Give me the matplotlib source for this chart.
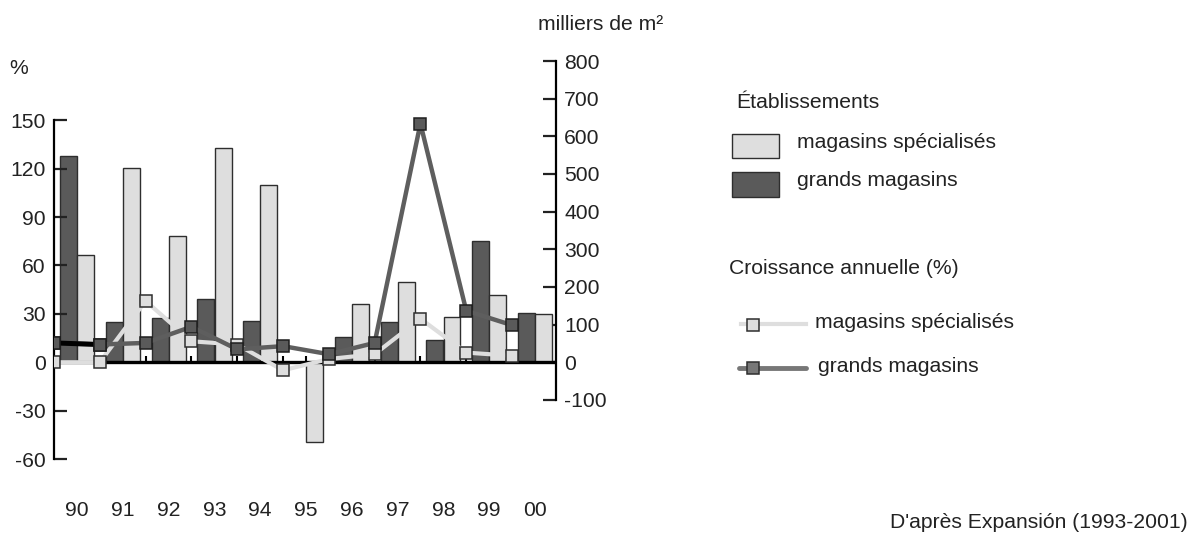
import numpy as np
import matplotlib
matplotlib.use('Agg')
from matplotlib import pyplot as plt
from matplotlib.patches import Rectangle
from matplotlib.lines import Line2D

plt.rcParams['font.family'] = ['Liberation Sans', 'DejaVu Sans']
plt.rcParams['axes.unicode_minus'] = False

# années (étiquettes de l'axe horizontal)
YEARS       = ['90', '91', '92', '93', '94', '95', '96', '97', '98', '99', '00']
# surfaces des établissements (milliers de m²)
SPEC_M2     = [286, 517, 336, 570, 471, -212, 154, 212, 119, 178, 127]
GRANDS_M2   = [548, 106, 117, 167, 109, 0, 66, 106, 58, 321, 132]
# croissance annuelle (%)
SPEC_PCT    = [0, 0, 38, 13, 11, -5, 2, 5, 27, 6, 4]
GRANDS_PCT  = [12, 11, 12, 22, 8, 10, 5, 12, 148, 32, 23]

LEFT_TICKS  = [-60, -30, 0, 30, 60, 90, 120, 150]
RIGHT_TICKS = [-100, 0, 100, 200, 300, 400, 500, 600, 700, 800]

LIGHT       = '#dedede'
DARK        = '#5a5a5a'
EDGE        = '#2e2e2e'
TXT         = '#222222'
FS          = 15.2

fig = plt.figure(figsize=(11.98, 5.38), dpi=100)
axPct = fig.add_axes([0.0451, 0.1468, 0.4190, 0.7398])
axM2 = axPct.twinx()
axPct.set_zorder(axM2.get_zorder() + 1)
axPct.patch.set_visible(False)

x = np.arange(len(YEARS))
xm = x - 0.5
w = 0.37

# barres (axe de droite)
axM2.bar(x - 0.185, GRANDS_M2, w, color=DARK, edgecolor=EDGE, linewidth=1, zorder=2)
axM2.bar(x + 0.19, SPEC_M2, w, color=LIGHT, edgecolor=EDGE, linewidth=1, zorder=2)
axM2.vlines(np.arange(0, 10.5, 0.5), 0, 16, color='black', linewidth=1.5, zorder=1)

# courbes (axe de gauche)
axPct.axhline(0, color='black', linewidth=2.4, zorder=1)
axPct.plot(xm, SPEC_PCT, '-s', color=LIGHT, linewidth=3, markersize=8.5,
           markerfacecolor=LIGHT, markeredgecolor=EDGE, markeredgewidth=1.1, zorder=3)
axPct.plot(xm, GRANDS_PCT, '-s', color='#5e5e5e', linewidth=3.2, markersize=8.5,
           markerfacecolor=DARK, markeredgecolor='#1e1e1e', markeredgewidth=1.1, zorder=4)
axPct.plot(xm[:2], GRANDS_PCT[:2], '-', color='black', linewidth=3.6, zorder=4)
axPct.plot(xm[:2], GRANDS_PCT[:2], 's', markersize=8.5, markerfacecolor=DARK,
           markeredgecolor='#1e1e1e', markeredgewidth=1.1, zorder=5)

axPct.set_xlim(-0.5, 10.46)
axPct.set_ylim(-60, 186.8)
axM2.set_ylim(-60 / 0.2335, 800)

for a in (axPct, axM2):
    for s in ('top', 'bottom'):
        a.spines[s].set_visible(False)
axPct.spines['right'].set_visible(False)
axM2.spines['left'].set_visible(False)
axPct.spines['left'].set_linewidth(1.6)
axM2.spines['right'].set_linewidth(1.6)
axPct.spines['left'].set_bounds(-60, 150)
axM2.spines['right'].set_bounds(-100, 800)

axPct.set_yticks(LEFT_TICKS)
axPct.tick_params(axis='y', direction='in', length=9, width=1.6, pad=6, labelsize=FS, colors=TXT)
axM2.set_yticks(RIGHT_TICKS)
axM2.tick_params(axis='y', direction='in', length=9.5, width=1.6, pad=6, labelsize=FS, colors=TXT)
axPct.set_xticks(x)
axPct.set_xticklabels(YEARS)
axPct.tick_params(axis='x', length=0, pad=30, labelsize=FS, colors=TXT)
axM2.tick_params(axis='x', which='both', bottom=False, labelbottom=False)

fig.text(9 / 1198, 1 - 68 / 538, '%', fontsize=FS, color=TXT, va='center', ha='left')
fig.text(538 / 1198, 1 - 25 / 538, 'milliers de m²', fontsize=FS, color=TXT, va='center', ha='left')

# légende dessinée à la main
leg = fig.add_axes([0, 0, 1, 1])
leg.set_xlim(0, 1198)
leg.set_ylim(538, 0)
leg.axis('off')
leg.patch.set_visible(False)

leg.text(736, 103, 'Établissements', fontsize=FS, color=TXT, va='center')
leg.add_patch(Rectangle((732, 134), 47, 24, facecolor=LIGHT, edgecolor=EDGE, linewidth=1))
leg.text(797, 143, 'magasins spécialisés', fontsize=FS, color=TXT, va='center')
leg.add_patch(Rectangle((732, 172), 47, 25, facecolor=DARK, edgecolor=EDGE, linewidth=1))
leg.text(797, 181, 'grands magasins', fontsize=FS, color=TXT, va='center')

leg.text(729, 268, 'Croissance annuelle (%)', fontsize=FS, color=TXT, va='center')
leg.add_line(Line2D([741, 806], [324, 324], color=LIGHT, linewidth=3))
leg.plot([753], [325], 's', markersize=8, markerfacecolor=LIGHT, markeredgecolor=EDGE, markeredgewidth=1.1)
leg.text(815, 322, 'magasins spécialisés', fontsize=FS, color=TXT, va='center')
leg.add_line(Line2D([739, 806], [368, 368], color='#777777', linewidth=3.5, solid_capstyle='round'))
leg.plot([753], [368], 's', markersize=8, markerfacecolor='#777777', markeredgecolor=EDGE, markeredgewidth=1.1)
leg.text(818, 367, 'grands magasins', fontsize=FS, color=TXT, va='center')

leg.text(1188, 522, "D'après Expansión (1993-2001)", fontsize=FS, color=TXT, va='center', ha='right')

plt.savefig('out.png', dpi=100)
